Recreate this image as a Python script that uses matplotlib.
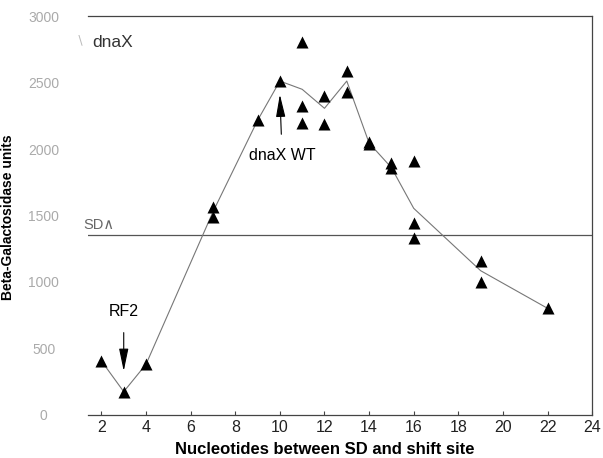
import matplotlib
matplotlib.use("Agg")
import matplotlib.pyplot as plt
import numpy as np

plt.rcParams['font.family'] = ['Liberation Sans', 'DejaVu Sans']

# measured points (triangles)
pt_x = [2, 3, 4, 7, 7, 9, 10, 11, 11, 11, 12, 12, 13, 13, 14, 14, 15, 15, 16, 16, 16, 19, 19, 22]
pt_y = [406, 175, 381, 1491, 1562, 2215, 2511, 2803, 2323, 2198, 2401, 2188, 2586, 2431,
        2055, 2035, 1892, 1855, 1912, 1446, 1328, 1158, 1002, 802]

# mean curve
line_x = [2, 3, 4, 7, 9, 10, 11, 12, 13, 14, 15, 16, 19, 22]
line_y = [406, 175, 381, 1527, 2215, 2511, 2449, 2306, 2511, 2045, 1860, 1554, 1085, 802]

sd_level = 1350
xticks = [2, 4, 6, 8, 10, 12, 14, 16, 18, 20, 22, 24]
yticks = [0, 500, 1000, 1500, 2000, 2500, 3000]

fig = plt.figure(figsize=(6.03, 4.58), dpi=100)
ax = fig.add_axes([0.146, 0.094, 0.836, 0.871])

ax.plot(line_x, line_y, color='#777777', lw=0.8, zorder=2)
ax.scatter(pt_x, pt_y, marker='^', s=75, color='black', zorder=3, linewidths=0)
ax.axhline(sd_level, color='#555555', lw=0.9, zorder=1)

ax.set_xlim(1.4, 24)
ax.set_ylim(0, 3000)
ax.set_xticks(xticks)
ax.set_yticks(yticks)
ax.spines['left'].set_visible(False)
for s in ['top', 'right', 'bottom']:
    ax.spines[s].set_color('#444444')
    ax.spines[s].set_linewidth(0.9)
ax.tick_params(axis='y', length=0, pad=32, labelsize=10, labelcolor='#aaaaaa')
ax.tick_params(axis='x', direction='in', length=3, labelsize=11.5, labelcolor='#222222', color='#444444')
for lab in ax.get_yticklabels():
    lab.set_horizontalalignment('center')

fig.text(325 / 603, 1 - 450 / 458, 'Nucleotides between SD and shift site', fontsize=12,
         fontweight='bold', ha='center', va='center')
fig.text(8.5 / 603, 1 - 217 / 458, 'Beta-Galactosidase units', rotation=90, fontsize=10,
         fontweight='bold', ha='center', va='center')

ax.text(1.2, 1430, 'SD∧', fontsize=10.5, color='#666666', ha='left', va='center')
ax.text(0.85, 2800, '∖', fontsize=9, color='#bbbbbb', ha='left', va='center')
ax.text(1.6, 2800, 'dnaX', fontsize=12.5, color='#333333', ha='left', va='center')

ax.annotate('RF2', xy=(3, 330), xytext=(3, 780), fontsize=11.5, ha='center', va='center',
            arrowprops=dict(arrowstyle='-|>,head_length=1.2,head_width=0.25', color='black', lw=0.8,
                            shrinkA=8, shrinkB=0))
ax.annotate('dnaX WT', xy=(10, 2410), xytext=(10.1, 1950), fontsize=11.5, ha='center', va='center',
            arrowprops=dict(arrowstyle='-|>,head_length=1.2,head_width=0.25', color='black', lw=0.8,
                            shrinkA=8, shrinkB=0))

fig.savefig('out.png', dpi=100)
